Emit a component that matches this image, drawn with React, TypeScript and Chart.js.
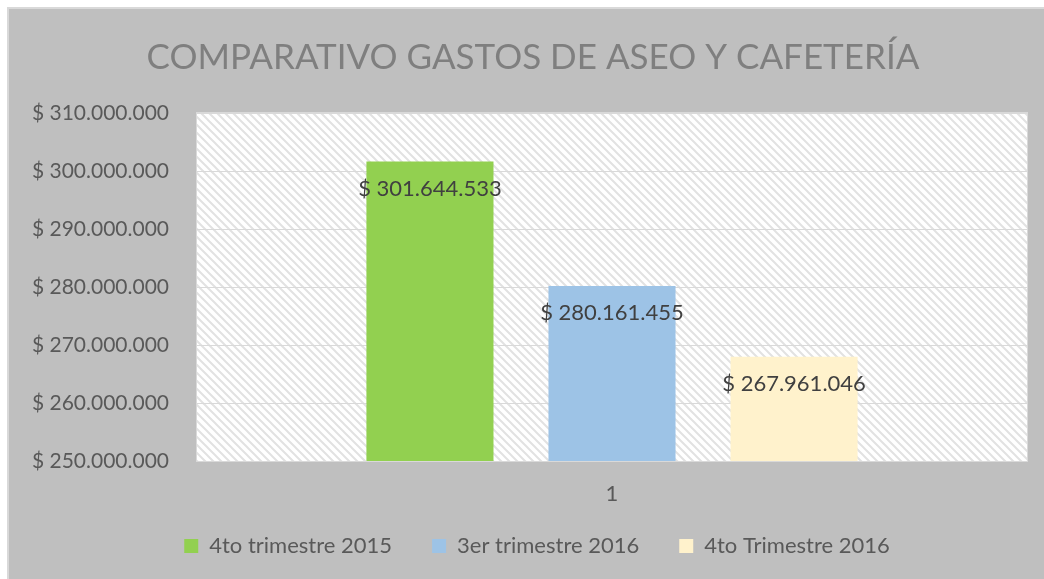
import React, { useEffect, useRef } from "react";
import { Chart, registerables } from "chart.js";

Chart.register(...registerables);

const categories = ["1"];
const seriesNames = ["4to trimestre 2015", "3er trimestre 2016", "4to Trimestre 2016"];
const seriesValues = [301644533, 280161455, 267961046];
const seriesColors = ["#92d050", "#9dc3e6", "#fff2cc"];
const yTicks = [250000000, 260000000, 270000000, 280000000, 290000000, 300000000, 310000000];
const titleText = "COMPARATIVO GASTOS DE ASEO Y CAFETERÍA";

const FONT = "Lato, 'Open Sans', sans-serif";

const fmt = (v: number) =>
  "$ " + Math.round(v).toString().replace(/\B(?=(\d{3})+(?!\d))/g, ".");

function makePattern(ctx: CanvasRenderingContext2D) {
  const c = document.createElement("canvas");
  c.width = 8;
  c.height = 8;
  const p = c.getContext("2d")!;
  p.fillStyle = "#ffffff";
  p.fillRect(0, 0, 8, 8);
  p.strokeStyle = "#e2e2e2";
  p.lineWidth = 2;
  p.beginPath();
  p.moveTo(-2, -2);
  p.lineTo(10, 10);
  p.moveTo(-10, -2);
  p.lineTo(2, 10);
  p.moveTo(6, -2);
  p.lineTo(18, 10);
  p.stroke();
  return ctx.createPattern(c, "repeat");
}

const bgPlugin = {
  id: "bgPlugin",
  afterLayout(chart: any) {
    // let tick labels extend outside their axis boxes without being clipped
    if (chart.scales.y) chart.scales.y.left = 0;
    if (chart.scales.x) chart.scales.x.bottom = chart.height;
    if (chart.legend) {
      chart.legend.left += 4;
      chart.legend.right += 4;
    }
  },
  beforeDraw(chart: any) {
    const { ctx, chartArea, width, height } = chart;
    ctx.save();
    ctx.fillStyle = "#ffffff";
    ctx.fillRect(0, 0, width, height);
    ctx.fillStyle = "#d9d9d9";
    ctx.fillRect(7, 7, width - 7, height - 7);
    ctx.fillStyle = "#bfbfbf";
    ctx.fillRect(9, 9, width - 9, height - 9);
    const pat = makePattern(ctx);
    if (pat) ctx.fillStyle = pat;
    ctx.fillRect(chartArea.left, chartArea.top, chartArea.right - chartArea.left, chartArea.bottom - chartArea.top);
    ctx.strokeStyle = "#d9d9d9";
    ctx.lineWidth = 1;
    ctx.strokeRect(chartArea.left - 0.5, chartArea.top - 0.5, chartArea.right - chartArea.left + 1, chartArea.bottom - chartArea.top + 1);
    ctx.restore();
  },
};

const labelPlugin = {
  id: "labelPlugin",
  afterDatasetsDraw(chart: any) {
    const { ctx } = chart;
    ctx.save();
    ctx.font = `22px ${FONT}`;
    ctx.fillStyle = "#404040";
    ctx.textAlign = "center";
    ctx.textBaseline = "middle";
    chart.data.datasets.forEach((ds: any, i: number) => {
      const meta = chart.getDatasetMeta(i);
      meta.data.forEach((el: any, j: number) => {
        ctx.fillText(fmt(ds.data[j]), el.x, el.y + 27);
      });
    });
    ctx.restore();
  },
};

export default function App() {
  const ref = useRef<HTMLCanvasElement>(null);
  useEffect(() => {
    const chart = new Chart(ref.current!, {
      type: "bar",
      data: {
        labels: categories,
        datasets: seriesNames.map((n, i) => ({
          label: n,
          data: [seriesValues[i]],
          backgroundColor: seriesColors[i],
          borderWidth: 0,
          categoryPercentage: 0.658,
          barPercentage: 0.698,
        })),
      },
      options: {
        animation: false,
        responsive: false,
        layout: { padding: { left: 39, right: 17, top: 0, bottom: 12 } },
        plugins: {
          title: {
            display: true,
            text: titleText,
            color: "#7f7f7f",
            font: { family: FONT, size: 35, weight: "normal" },
            padding: { top: 37, bottom: 34 },
          },
          legend: {
            position: "bottom",
            labels: {
              color: "#595959",
              font: { family: FONT, size: 22 },
              boxWidth: 14,
              boxHeight: 14,
              padding: 40,
            },
          },
          tooltip: { enabled: false },
        },
        scales: {
          x: {
            grid: { display: false, drawTicks: false },
            border: { display: false },
            ticks: { color: "#595959", font: { family: FONT, size: 22 }, padding: 20 },
            afterFit(s: any) {
              s.height = 34;
            },
          },
          y: {
            min: 250000000,
            max: 310000000,
            afterBuildTicks(s: any) {
              s.ticks = yTicks.map((v) => ({ value: v }));
            },
            grid: { color: "#d9d9d9", drawTicks: false },
            border: { display: false },
            ticks: {
              color: "#595959",
              font: { family: FONT, size: 21 },
              padding: 28,
              callback: (v: any) => fmt(Number(v)),
            },
            afterFit(s: any) {
              s.width = 158;
            },
          },
        },
      },
      plugins: [bgPlugin, labelPlugin],
    });
    return () => chart.destroy();
  }, []);
  return (
    <div style={{ position: "fixed", left: 0, top: 0, width: 1044, height: 579 }}>
      <canvas ref={ref} width={1044} height={579} style={{ display: "block" }} />
    </div>
  );
}
